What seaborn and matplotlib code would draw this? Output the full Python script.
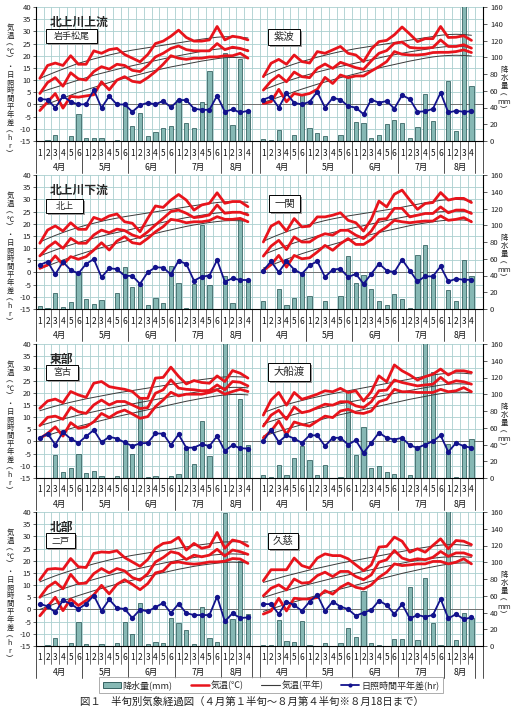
import matplotlib
matplotlib.use("Agg")
import matplotlib.pyplot as plt
import matplotlib.transforms as mtransforms
from matplotlib.patches import Patch, Rectangle
from matplotlib.lines import Line2D
import seaborn as sns

# half-month periods (半旬), Apr 1 .. Aug 4
periods = ['1', '2', '3', '4', '5', '6'] * 4 + ['1', '2', '3', '4']
months = ['4月', '5月', '6月', '7月', '8月']
month_len = [6, 6, 6, 6, 4]

regions = ['北上川上流', '北上川下流', '東部', '北部']

# ---- 岩手松尾 ----
matsuo_tmax = [10.7, 16, 17, 16, 20, 16.5, 16.5, 22, 21, 22.5, 23, 20.5, 19, 17.5, 20.5, 25, 26, 28, 30.5, 27.5, 26, 26, 26.5, 32, 26.5, 28, 27.5, 26.5]
matsuo_tmean = [4.5, 9, 11, 7.5, 13, 10.5, 10, 13.5, 15.5, 14.5, 16.5, 16, 14, 13.5, 16, 19.5, 21, 23, 24, 22.5, 22, 22, 22, 25, 22.5, 23.5, 23, 22]
matsuo_tmin = [-2.5, 1, 4.5, -1.5, 3.3, 3, 3.5, 4, 9.3, 6, 10, 11.4, 9.5, 9, 11, 13.5, 16.5, 20, 19, 18.5, 19, 19, 19.5, 19.5, 20, 20, 21, 19]
matsuo_nmax = [10.7, 12, 13.3, 14.5, 15.7, 16.9, 17.8, 18.7, 19.5, 20.3, 21, 21.7, 22.3, 22.8, 23.3, 23.8, 24.3, 24.8, 25.3, 25.8, 26.3, 26.8, 27.2, 27.6, 27.8, 27.8, 27.6, 27.3]
matsuo_nmean = [5, 6, 7, 8, 9, 10, 11, 12, 12.8, 13.6, 14.4, 15.2, 15.9, 16.6, 17.3, 18, 18.7, 19.4, 20, 20.6, 21.2, 21.8, 22.3, 22.7, 23, 23, 22.8, 22.5]
matsuo_nmin = [-1, 0.2, 1.4, 2.6, 3.8, 5, 6, 7, 8, 9, 9.9, 10.8, 11.6, 12.4, 13.2, 14, 14.7, 15.4, 16, 16.6, 17.2, 17.8, 18.3, 18.8, 19.2, 19.3, 19.2, 19]
matsuo_sun = [2.2, 2, -1.4, 3.4, 1.1, 0, 0.1, 6, -1.4, 3.4, 0, 0, -3, -0.3, 0.7, 0, 1.5, -1.2, 1.8, 1.8, -1.7, -2.2, -2.2, 3.6, -3, -2, -3.3, -2.6]
matsuo_prec = [0, 1, 7.6, 0, 5.6, 32, 3.2, 3.2, 3.6, 0, 1, 41.6, 17.6, 33.6, 5.6, 10.8, 16, 17.6, 48.8, 22, 15.6, 46, 84, 0, 105.6, 19.6, 98.4, 36.8]

# ---- 紫波 ----
shiwa_tmax = [11.4, 16.9, 18.5, 16.5, 20.3, 17.6, 17, 21.7, 21, 22.4, 23.8, 21, 20.3, 17.6, 22.7, 25.8, 26.3, 28.6, 31.8, 28.9, 25.8, 27, 27, 32, 27.5, 27.6, 28.2, 26.3]
shiwa_tmean = [5.9, 9.6, 12, 9.3, 13.3, 11.4, 11, 14.8, 16.6, 14.8, 17.3, 16.2, 15.1, 14.4, 17.9, 21, 22.1, 25.1, 25.6, 23.4, 23.1, 23.1, 23.4, 26.5, 23.8, 23.8, 24.5, 23.1]
shiwa_tmin = [0.4, 1.1, 6.2, 1.1, 4.5, 3.8, 4.5, 6.2, 11.1, 8.6, 12.1, 11, 11.7, 11.7, 13.7, 15.5, 17.6, 21.7, 20.6, 20.3, 20.3, 20.6, 21.3, 21.4, 21.4, 21.7, 22.4, 21.3]
shiwa_nmax = [11.5, 13, 14.3, 15.5, 16.6, 17.6, 18.5, 19.4, 20.2, 21, 21.7, 22.3, 22.9, 23.4, 23.9, 24.4, 24.9, 25.4, 25.9, 26.4, 26.9, 27.4, 27.9, 28.4, 28.7, 28.8, 28.7, 28.4]
shiwa_nmean = [6, 7.2, 8.4, 9.5, 10.5, 11.5, 12.4, 13.3, 14.1, 14.9, 15.6, 16.3, 17, 17.7, 18.4, 19.1, 19.8, 20.4, 21, 21.6, 22.1, 22.6, 23.1, 23.5, 23.8, 23.9, 23.7, 23.3]
shiwa_nmin = [0.8, 1.9, 3, 4.1, 5.2, 6.3, 7.3, 8.3, 9.2, 10.1, 11, 11.8, 12.6, 13.4, 14.2, 15, 15.7, 16.4, 17.1, 17.8, 18.4, 19, 19.5, 19.9, 20.1, 20.2, 20.1, 19.9]
shiwa_sun = [2, 3.2, -1.3, 4.5, 0.7, 0, 1.1, 5.2, -1.3, 2.7, 2, -0.7, -1.3, -4, 2, 0.7, 1.4, -1.7, 3.8, 2.2, -3, -2.8, -1.8, 4.8, -3.3, -2.6, -3, -2.8]
shiwa_prec = [2, 1, 13, 0, 7, 56, 16, 9, 6, 0, 7, 76, 23, 22, 4, 7, 20, 25, 22, 4, 17, 56, 24, 0, 72, 12, 170, 66]

# ---- 北上 ----
kitakami_tmax = [12, 17.4, 19.1, 17, 20.4, 17.7, 17.7, 22.6, 21.5, 23.2, 24, 20.8, 20.2, 16.7, 22.2, 27.3, 26.7, 29.7, 32, 29.7, 25.6, 27.7, 28.4, 32.7, 28.4, 29.1, 29.1, 27]
kitakami_tmean = [6.8, 10.3, 12.6, 9.9, 14, 12, 12, 15.4, 17.4, 16.3, 17.8, 17.2, 15.4, 14.3, 16.7, 19.5, 22.2, 25, 25.6, 24.3, 22.5, 22.9, 23.6, 27.7, 24.3, 24.7, 24.7, 23.6]
kitakami_tmin = [1.7, 3.1, 6.8, 3.3, 6.5, 5.4, 6.5, 9.2, 12.2, 9.2, 12.9, 14.7, 12.2, 11.7, 14, 16.7, 18.8, 21.8, 21.3, 20.4, 20.8, 20.8, 21.3, 22.9, 21.8, 21.8, 22.2, 20.8]
kitakami_nmax = [12.5, 13.9, 15.2, 16.4, 17.5, 18.5, 19.4, 20.2, 21, 21.7, 22.3, 22.9, 23.4, 23.9, 24.4, 24.9, 25.4, 25.9, 26.4, 26.9, 27.4, 27.9, 28.3, 28.7, 29, 29.1, 29, 28.8]
kitakami_nmean = [6.8, 8, 9.2, 10.3, 11.3, 12.3, 13.2, 14.1, 14.9, 15.7, 16.4, 17.1, 17.8, 18.5, 19.2, 19.9, 20.6, 21.3, 21.9, 22.5, 23, 23.5, 24, 24.4, 24.7, 24.8, 24.7, 24.4]
kitakami_nmin = [1.5, 2.7, 3.9, 5.1, 6.2, 7.3, 8.3, 9.3, 10.2, 11.1, 12, 12.8, 13.6, 14.4, 15.2, 16, 16.8, 17.5, 18.2, 18.9, 19.5, 20, 20.5, 20.9, 21.2, 21.3, 21.2, 21]
kitakami_sun = [3.1, 4.4, -0.8, 4.3, 1, -0.4, 3.5, 5.5, -2, 1.7, 1.4, -1.4, -1.4, -4.7, 0.1, 2.1, 2, -0.8, 4.8, 3.5, -3.4, -1.7, -1.3, 5.1, -3.8, -2.4, -3.1, -3.1]
kitakami_prec = [3.6, 1, 18.7, 2.8, 8, 44.6, 12.3, 6, 10.7, 0, 18.7, 50.5, 26.7, 27.5, 4.4, 13.5, 6.8, 51.3, 30.6, 1.2, 29.5, 100, 28.7, 0, 39.4, 6.8, 108, 34.6]

# ---- 一関 ----
ichinoseki_tmax = [12.5, 19, 20.8, 17, 22.1, 18.7, 19, 22.8, 22.8, 23.5, 24.5, 21.4, 20.4, 17, 21.8, 29.3, 26.9, 32.1, 33.8, 29.7, 25.9, 28.3, 28.7, 32.8, 29.7, 30.4, 30.4, 28.7]
ichinoseki_tmean = [6.7, 10.8, 13.2, 9.4, 14.6, 12.5, 12.5, 14.6, 15.9, 15.3, 17.3, 17.3, 15.3, 13.9, 17, 21.8, 22.1, 26.3, 26.3, 22.8, 23.5, 24.2, 24.2, 26.9, 24.5, 25.6, 25.6, 24.2]
ichinoseki_tmin = [0.8, 3.2, 7, 2.2, 7, 5.6, 6, 8.4, 11.1, 9.1, 11.8, 13.9, 11.5, 11.5, 13.5, 16.6, 18.7, 21.4, 20.8, 20.4, 20.8, 21.1, 21.1, 23.2, 21.4, 21.8, 22.5, 20.8]
ichinoseki_nmax = [12.8, 14.2, 15.5, 16.7, 17.8, 18.8, 19.7, 20.5, 21.3, 22, 22.6, 23.2, 23.7, 24.2, 24.7, 25.2, 25.7, 26.2, 26.8, 27.4, 28, 28.6, 29.1, 29.6, 29.9, 30, 29.8, 29.4]
ichinoseki_nmean = [7.3, 8.6, 9.8, 11, 12.1, 13.1, 14, 14.9, 15.7, 16.4, 17.1, 17.8, 18.5, 19.2, 19.9, 20.6, 21.3, 22, 22.6, 23.2, 23.7, 24.2, 24.6, 24.9, 25.1, 25.2, 25.1, 24.8]
ichinoseki_nmin = [1.8, 3, 4.2, 5.4, 6.6, 7.7, 8.7, 9.7, 10.6, 11.5, 12.4, 13.2, 14, 14.8, 15.6, 16.4, 17.1, 17.8, 18.5, 19.2, 19.8, 20.3, 20.8, 21.2, 21.5, 21.6, 21.5, 21.2]
ichinoseki_sun = [0.8, 4.6, 0.1, 4.6, 1.2, -0.6, 2.9, 4.6, -1.9, 1.2, 1.5, -1.9, -0.6, -4.7, -0.6, 3.6, 0.8, 0.1, 5.3, 0.8, -3.7, -1.6, -1.6, 2.5, -3.7, -2.6, -3, -3]
ichinoseki_prec = [10, 0, 24, 5, 13, 43, 15, 0, 10, 0, 15, 63, 31, 41, 24, 10, 5, 18, 12, 1, 65, 77, 39, 0, 23, 9, 59, 40]

# ---- 宮古 ----
miyako_tmax = [13.6, 16.6, 17.4, 15.9, 20.5, 19.1, 18.1, 23.9, 24.6, 22.5, 21.9, 21.4, 20.5, 17.7, 17.7, 26, 26.3, 30.5, 26.7, 23.6, 25, 24.2, 23.9, 26.9, 24.6, 29.1, 28, 26]
miyako_tmean = [6.5, 9.9, 10.4, 9.1, 14, 12.2, 11.5, 15, 17, 15, 16.4, 16.4, 15, 13.5, 13.9, 19.8, 21.2, 25.3, 21.9, 21.4, 21.2, 20.8, 20.9, 23.2, 21.2, 24.6, 24.3, 22.8]
miyako_tmin = [1.2, 3.3, 6, 2.2, 7.7, 5.4, 6, 8.1, 11.5, 9.8, 11.8, 12.9, 11.3, 9.5, 10.2, 14.3, 17, 20.2, 18.7, 19.4, 19.4, 19.4, 20.1, 21.2, 19.4, 20.5, 21.4, 20.5]
miyako_nmax = [12.6, 13.6, 14.5, 15.3, 16.1, 16.8, 17.5, 18.1, 18.7, 19.3, 19.9, 20.4, 20.9, 21.4, 21.9, 22.4, 22.9, 23.4, 23.9, 24.4, 24.9, 25.4, 25.8, 26.2, 26.5, 26.6, 26.5, 26.3]
miyako_nmean = [6.5, 7.4, 8.3, 9.2, 10, 10.8, 11.5, 12.2, 12.9, 13.6, 14.2, 14.8, 15.4, 16, 16.6, 17.2, 17.8, 18.4, 19, 19.6, 20.1, 20.6, 21.1, 21.6, 22, 22.2, 22.2, 22]
miyako_nmin = [1.5, 2.5, 3.5, 4.4, 5.3, 6.2, 7, 7.8, 8.6, 9.4, 10.2, 10.9, 11.6, 12.3, 13, 13.7, 14.4, 15.1, 15.8, 16.5, 17.1, 17.7, 18.2, 18.7, 19.1, 19.3, 19.3, 19.1]
miyako_sun = [1.5, 3.2, -1.3, 3.8, 1.1, -0.6, 2.1, 4.7, -0.3, 1.9, 1.2, -0.4, -1.9, -0.8, -0.6, 3.3, 3.2, -1.5, 2.9, -2.6, -2.5, -1.1, -1.9, 2.2, -3.9, -1.5, -2.8, -2.9]
miyako_prec = [0, 0, 28, 7, 12, 29, 6.4, 8, 2, 0, 2, 41, 29, 95, 1, 2, 0, 2, 4.4, 37, 17, 68, 26, 0, 170, 0, 94, 40]

# ---- 大船渡 ----
ofunato_tmax = [10.8, 17, 20.1, 14.9, 20.1, 17.3, 18.3, 19.4, 20.8, 20.4, 21.8, 20.1, 20.8, 16.6, 20.4, 26.9, 24.5, 31.4, 29, 27.3, 25.2, 26.6, 27.6, 29.7, 27.3, 29, 29, 28.3]
ofunato_tmean = [6.3, 10.8, 12.8, 9.1, 14.2, 11.8, 12.5, 13.9, 15.3, 14.9, 16.3, 16.3, 14.6, 13.9, 16.3, 20.8, 21.1, 25.2, 24.2, 23.5, 22.8, 23.2, 23.5, 26.3, 23.8, 24.9, 24.5, 23.5]
ofunato_tmin = [1.5, 4.3, 8.4, 2.9, 8, 7, 6.3, 8.4, 10.4, 9.8, 12.5, 13.2, 11.8, 11.5, 12.5, 16.3, 17.3, 21.4, 20.4, 20.4, 20.1, 20.1, 20.1, 21.4, 20.4, 20.8, 22.1, 20.4]
ofunato_nmax = [11.8, 13, 14.1, 15.1, 16, 16.8, 17.6, 18.3, 19, 19.6, 20.2, 20.8, 21.4, 22, 22.6, 23.2, 23.8, 24.4, 25, 25.6, 26.2, 26.8, 27.3, 27.7, 28, 28.1, 28, 27.7]
ofunato_nmean = [7.3, 8.3, 9.3, 10.2, 11.1, 11.9, 12.7, 13.4, 14.1, 14.8, 15.5, 16.1, 16.7, 17.3, 17.9, 18.5, 19.1, 19.7, 20.3, 20.9, 21.5, 22.1, 22.6, 23.1, 23.5, 23.7, 23.6, 23.4]
ofunato_nmin = [2.2, 3.2, 4.2, 5.1, 6, 6.9, 7.8, 8.6, 9.4, 10.2, 11, 11.7, 12.4, 13.1, 13.8, 14.5, 15.2, 15.9, 16.6, 17.3, 17.9, 18.5, 19.1, 19.6, 20, 20.2, 20.2, 20]
ofunato_sun = [0.1, 4.9, -0.2, 2.5, 1.2, -0.6, 2.5, 2.5, -1.9, 1.5, 1.5, -1.3, 0.5, -4.7, -0.6, 3.6, 1.5, 0.8, 1.5, -1.6, -2.6, -1.3, 0.1, 2.5, -4.3, -0.6, -1.9, -2.6]
ofunato_prec = [4, 1, 16, 4, 24, 38, 21, 3, 16, 0, 1, 104, 28, 61, 12, 14, 7, 5, 47, 4, 37, 170, 126, 0, 41, 1, 37, 47]

# ---- 二戸 ----
ninohe_tmax = [12.2, 16.5, 16.8, 16.5, 20.9, 17.5, 17.2, 23, 23.6, 23.4, 24.1, 21.3, 19.5, 17.7, 20.5, 25.1, 27.1, 27.6, 29.6, 24.4, 27.1, 25.1, 25.8, 31.6, 25.1, 28.5, 27.8, 26]
ninohe_tmean = [5, 9.2, 11.3, 8.5, 14.4, 10.6, 10.8, 14.7, 16.8, 15, 16.8, 15.8, 13.1, 12, 14.7, 19.5, 21.3, 23.7, 23, 20.5, 22.3, 21.6, 22.3, 24.7, 21.9, 24.4, 23.7, 22.6]
ninohe_tmin = [-2.6, 1.2, 5, -0.5, 4.3, 1.6, 3.7, 6, 9.9, 6.4, 10.3, 12.2, 10.3, 8.1, 10.6, 15, 15.8, 19.1, 19.5, 18.9, 18.6, 18.9, 19.5, 19.5, 19.8, 20.9, 20.7, 18.9]
ninohe_nmax = [11.3, 12.6, 13.8, 14.9, 15.9, 16.9, 17.8, 18.7, 19.5, 20.3, 21, 21.6, 22.2, 22.7, 23.2, 23.7, 24.2, 24.7, 25.2, 25.7, 26.2, 26.6, 27, 27.4, 27.7, 27.8, 27.8, 27.7]
ninohe_nmean = [5, 6.2, 7.4, 8.5, 9.5, 10.5, 11.4, 12.3, 13.2, 14, 14.8, 15.5, 16.2, 16.9, 17.6, 18.3, 19, 19.6, 20.2, 20.8, 21.3, 21.8, 22.2, 22.5, 22.7, 22.8, 22.7, 22.5]
ninohe_nmin = [0, 1.2, 2.4, 3.5, 4.6, 5.7, 6.7, 7.7, 8.6, 9.5, 10.4, 11.2, 12, 12.8, 13.6, 14.4, 15.1, 15.8, 16.5, 17.1, 17.7, 18.2, 18.6, 19, 19.3, 19.4, 19.3, 19.1]
ninohe_sun = [2.3, 1.3, -1.2, 3.7, 2.3, 0.2, 2.3, 5.7, -0.5, 4.1, 0.6, 0.2, -3.5, -0.1, -0.8, 0.9, 2.7, -1.5, 2.3, -1.5, -2.3, -2.3, -2.3, 5.3, -4.9, -1.6, -3.5, -3.3]
ninohe_prec = [0.5, 1, 10, 0, 3, 29, 2, 0.5, 2, 0, 3, 29, 14, 51, 2, 5, 3, 33, 27, 19, 2, 46, 10, 5, 159, 32, 102, 38]

# ---- 久慈 ----
kuji_tmax = [11.8, 16.3, 16.3, 16.3, 21.1, 18, 17, 21.1, 22.8, 22.1, 22.1, 20.8, 18.3, 15.9, 18.3, 25.6, 25.9, 29.7, 28, 23.5, 24.9, 23.5, 26.3, 29, 24.9, 28.3, 28, 26.6]
kuji_tmean = [5.6, 8.7, 10.1, 8, 12.5, 10.8, 11.1, 13.9, 15.3, 13.5, 15.6, 15.6, 13.5, 12.2, 14.2, 19.4, 20.4, 24.2, 21.1, 20.1, 20.8, 20.4, 21.4, 23.8, 21.8, 23.2, 23.2, 22.1]
kuji_tmin = [-1.9, -0.6, 4.6, -0.6, 4.6, 4.3, 4.3, 4.9, 7.7, 6.3, 9.1, 10.8, 9.1, 8.4, 10.1, 13.2, 15.3, 18.7, 18, 18.3, 18.7, 18.7, 19.7, 19.7, 18.7, 19.4, 20.8, 18.7]
kuji_nmax = [11.1, 12, 12.9, 13.8, 14.6, 15.4, 16.2, 16.9, 17.6, 18.3, 19, 19.6, 20.2, 20.8, 21.4, 22, 22.6, 23.2, 23.8, 24.4, 25, 25.5, 26, 26.4, 26.6, 26.6, 26.4, 26]
kuji_nmean = [4.9, 5.9, 6.9, 7.8, 8.7, 9.6, 10.4, 11.2, 12, 12.8, 13.5, 14.2, 14.9, 15.6, 16.3, 17, 17.7, 18.4, 19, 19.6, 20.1, 20.6, 21, 21.4, 21.6, 21.7, 21.6, 21.4]
kuji_nmin = [-0.8, 0.2, 1.2, 2.2, 3.1, 4, 4.9, 5.8, 6.7, 7.6, 8.4, 9.2, 10, 10.8, 11.6, 12.4, 13.2, 14, 14.8, 15.5, 16.2, 16.9, 17.5, 18.1, 18.6, 19, 19.1, 19]
kuji_sun = [2.2, 2.2, -1.9, 3.2, 1.8, -0.6, 3.2, 6, -0.6, 3.2, 1.2, 0.1, -2.6, -1.3, -0.2, 3.6, 1.8, -1.9, 2.2, -3.7, -2.3, -3, -2.3, 4.3, -3.7, -1.9, -4, -3.3]
kuji_prec = [1, 1, 31, 6, 5, 30, 1, 0, 4, 0, 4, 21, 11, 66, 3, 1, 0, 8, 8, 70, 7, 81, 28, 1, 170, 7, 40, 34]

stations = [
    [('岩手松尾', matsuo_tmax, matsuo_tmean, matsuo_tmin, matsuo_nmax, matsuo_nmean, matsuo_nmin, matsuo_sun, matsuo_prec),
     ('紫波', shiwa_tmax, shiwa_tmean, shiwa_tmin, shiwa_nmax, shiwa_nmean, shiwa_nmin, shiwa_sun, shiwa_prec)],
    [('北上', kitakami_tmax, kitakami_tmean, kitakami_tmin, kitakami_nmax, kitakami_nmean, kitakami_nmin, kitakami_sun, kitakami_prec),
     ('一関', ichinoseki_tmax, ichinoseki_tmean, ichinoseki_tmin, ichinoseki_nmax, ichinoseki_nmean, ichinoseki_nmin, ichinoseki_sun, ichinoseki_prec)],
    [('宮古', miyako_tmax, miyako_tmean, miyako_tmin, miyako_nmax, miyako_nmean, miyako_nmin, miyako_sun, miyako_prec),
     ('大船渡', ofunato_tmax, ofunato_tmean, ofunato_tmin, ofunato_nmax, ofunato_nmean, ofunato_nmin, ofunato_sun, ofunato_prec)],
    [('二戸', ninohe_tmax, ninohe_tmean, ninohe_tmin, ninohe_nmax, ninohe_nmean, ninohe_nmin, ninohe_sun, ninohe_prec),
     ('久慈', kuji_tmax, kuji_tmean, kuji_tmin, kuji_nmax, kuji_nmean, kuji_nmin, kuji_sun, kuji_prec)],
]

# station label boxes: (x, y, w, h) in px from the plot's top-left corner
boxes = [
    [(10, 22, 51, 14), (232, 22, 32, 16)],
    [(10, 24, 37, 14), (233, 20, 31, 17)],
    [(10, 21, 32, 15), (232, 19, 42, 18)],
    [(10, 21, 29, 15), (232, 21, 30, 16)],
]

# style
sns.set_theme(style="white")
plt.rcParams['font.family'] = ['Noto Sans CJK JP', 'DejaVu Sans']
plt.rcParams['axes.unicode_minus'] = False

RED = '#e8141c'
NORMAL = '#3a3a3a'
BLUE = '#12128c'
BAR = '#86b8b4'
BAR_EDGE = '#1f4f4f'
GRID = '#a9cfcf'
LINE = '#333333'

FIG_W, FIG_H = 518, 711
AX_L, AX_W, AX_H = 36, 447, 134
ROW_TOPS = [7, 175, 344, 512]
OFFSETS = [0, 29]          # left station slots 0..27, right 29..56

LEFT_TITLE = '\n'.join(['気', '温', '︵', '℃', '︶', '・', '日', '照', '時', '間', '平', '年', '差',
                        '︵', 'h', 'r', '︶'])
RIGHT_TITLE = '\n'.join(['降', '水', '量', '︵', 'mm', '︶'])


def to_mm(t):
    # left axis (-15..40) position expressed on the right axis (0..160)
    return (t + 15) * 160 / 55


fig = plt.figure(figsize=(FIG_W / 100, FIG_H / 100), dpi=100)

for r, region in enumerate(regions):
    top = ROW_TOPS[r]
    pos = [AX_L / FIG_W, 1 - (top + AX_H) / FIG_H, AX_W / FIG_W, AX_H / FIG_H]
    ax = fig.add_axes(pos)
    ax2 = ax.twinx()
    ax.set_zorder(ax2.get_zorder() + 1)
    ax.patch.set_visible(False)

    for s, (name, tmax, tmean, tmin, nmax, nmean, nmin, sun, prec) in enumerate(stations[r]):
        xs = [i + OFFSETS[s] for i in range(len(periods))]
        sns.barplot(x=xs, y=prec, ax=ax2, native_scale=True, color=BAR, saturation=1,
                    edgecolor=BAR_EDGE, linewidth=0.5, width=0.55, errorbar=None, zorder=2)
        for ys in (nmax, nmean, nmin):
            sns.lineplot(x=xs, y=ys, ax=ax, color=NORMAL, linewidth=0.7,
                         estimator=None, sort=False, legend=False, zorder=2)
        for ys in (tmax, tmean, tmin):
            sns.lineplot(x=xs, y=ys, ax=ax, color=RED, linewidth=2.0,
                         estimator=None, sort=False, legend=False, zorder=3)
        sns.lineplot(x=xs, y=sun, ax=ax, color=BLUE, linewidth=1.3, marker='o',
                     markersize=3.8, markeredgewidth=0, estimator=None, sort=False,
                     legend=False, zorder=4)

        # station name box with a little shadow
        bx, by, bw, bh = boxes[r][s]
        fx, fy, fw, fh = bx / AX_W, 1 - (by + bh) / AX_H, bw / AX_W, bh / AX_H
        ax.add_patch(Rectangle((fx + 1.5 / AX_W, fy - 1.5 / AX_H), fw, fh, transform=ax.transAxes,
                               facecolor='#9a9a9a', edgecolor='none', zorder=9, clip_on=False))
        ax.add_patch(Rectangle((fx, fy), fw, fh, transform=ax.transAxes, facecolor='white',
                               edgecolor='black', linewidth=0.7, zorder=10, clip_on=False))
        ax.text(fx + fw / 2, fy + fh / 2, name, transform=ax.transAxes, ha='center', va='center',
                fontsize=6.5 if s == 0 else 7.5, zorder=11)

    ax.text(14 / AX_W, 1 - 15 / AX_H, region, transform=ax.transAxes, ha='left', va='center',
            fontsize=8.5, fontweight='bold', zorder=11)

    # grid on the lower (bar) axes so the bars cover it
    for k in range(57):
        ax2.axvline(k + 0.5, color=GRID, linewidth=0.6, zorder=0)
    for t in range(-10, 41, 5):
        ax2.axhline(to_mm(t), color=GRID, linewidth=0.6, zorder=0)
    ax2.axhline(to_mm(0), color='#707070', linewidth=0.7, zorder=0.5)

    ax.set_xlim(-0.5, 57.5)
    ax.set_ylim(-15, 40)
    ax2.set_ylim(0, 160)
    ax.set_yticks(range(-15, 41, 5))
    ax2.set_yticks(range(0, 161, 20))
    ax.set_xticks([])
    ax2.set_xticks([])
    ax.set_xlabel('')
    ax2.set_xlabel('')
    ax.set_ylabel('')
    ax2.set_ylabel('')
    ax.tick_params(axis='y', labelsize=5.5, length=2, width=0.5, pad=1.5, left=True, colors='#222')
    ax2.tick_params(axis='y', labelsize=5.5, length=3, width=0.5, pad=2, right=True, colors='#222')
    for sp in ('top', 'right'):
        ax.spines[sp].set_visible(False)
    for sp in ('left', 'bottom'):
        ax.spines[sp].set_color('black')
        ax.spines[sp].set_linewidth(0.8)
    for sp in ('top', 'left', 'bottom'):
        ax2.spines[sp].set_visible(False)
    ax2.spines['right'].set_color('black')
    ax2.spines['right'].set_linewidth(0.8)

    # two-level category labels (half-month number / month)
    trans = mtransforms.blended_transform_factory(ax.transData, ax.transAxes)
    short_y, long_y = -18 / AX_H, -32 / AX_H
    for off in OFFSETS:
        for i, p in enumerate(periods):
            ax.text(i + off, -12 / AX_H, p, transform=trans, ha='center', va='center', fontsize=6,
                    color='#111')
        start = 0
        bounds = [-0.5 + off]
        for m, n in zip(months, month_len):
            ax.text(start + (n - 1) / 2 + off, -26 / AX_H, m, transform=trans, ha='center',
                    va='center', fontsize=6.2, color='#111')
            start += n
            bounds.append(start - 0.5 + off)
        for i in range(1, len(periods)):
            xb = i - 0.5 + off
            if xb not in bounds:
                ax.plot([xb, xb], [0, short_y], transform=trans, color=LINE, linewidth=0.5,
                        clip_on=False)
        for xb in bounds:
            ax.plot([xb, xb], [0, long_y], transform=trans, color=LINE, linewidth=0.6, clip_on=False)
    ax.plot([57.5, 57.5], [0, long_y], transform=trans, color=LINE, linewidth=0.6, clip_on=False)

    # vertical (stacked) axis titles
    fig.text(10 / FIG_W, 1 - (top + 84) / FIG_H, LEFT_TITLE, ha='center', va='center',
             fontsize=5.3, linespacing=0.98, color='#222')
    fig.text(504 / FIG_W, 1 - (top + 83) / FIG_H, RIGHT_TITLE, ha='center', va='center',
             fontsize=5.3, linespacing=0.98, color='#222')

# legend
handles = [
    Patch(facecolor=BAR, edgecolor=BAR_EDGE, linewidth=0.6),
    Line2D([], [], color=RED, linewidth=1.8),
    Line2D([], [], color=NORMAL, linewidth=0.8),
    Line2D([], [], color=BLUE, linewidth=1.3, marker='o', markersize=3, markeredgewidth=0),
]
labels = ['降水量(mm)', '気温(℃)', '気温(平年)', '日照時間平年差(hr)']
leg = fig.legend(handles, labels, loc='center', bbox_to_anchor=(271 / FIG_W, 1 - 685 / FIG_H),
                 ncol=4, fontsize=6.5, frameon=True, fancybox=False, edgecolor='#888888',
                 handlelength=2.0, handleheight=0.6, columnspacing=2.0, handletextpad=0.2,
                 borderpad=0.35)
leg.get_frame().set_linewidth(0.6)

fig.text(252 / FIG_W, 1 - 702 / FIG_H,
         '図１　半旬別気象経過図（４月第１半旬～８月第４半旬※８月18日まで）',
         ha='center', va='center', fontsize=7.5, color='#222')

fig.savefig('out.png', dpi=100)
plt.close(fig)
